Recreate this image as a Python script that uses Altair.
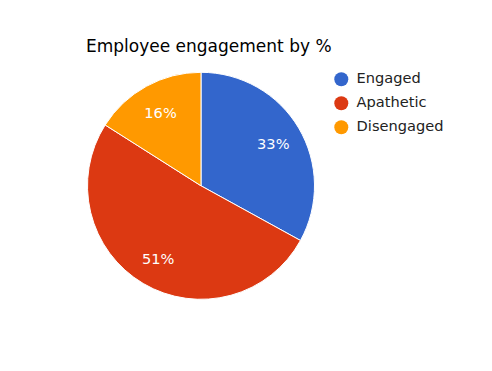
import altair as alt
import pandas as pd

categories = ["Engaged", "Apathetic", "Disengaged"]
values = [33, 51, 16]
labels = ["33%", "51%", "16%"]
colors = ["#3366CC", "#DC3912", "#FF9900"]
title_text = "Employee engagement by %"

df = pd.DataFrame({
    "category": categories,
    "value": values,
    "label": labels,
    "order": list(range(len(categories))),
})

CX, CY, R = 193, 177.8, 113.5
FONT = "DejaVu Sans"

color = alt.Color(
    "category:N",
    scale=alt.Scale(domain=categories, range=colors),
    legend=alt.Legend(
        title=None,
        orient="none",
        legendX=326,
        legendY=64,
        symbolType="circle",
        symbolSize=196,
        symbolStrokeWidth=0,
        labelFontSize=14.6,
        labelFont=FONT,
        labelColor="#222222",
        labelOffset=8,
        rowPadding=8,
        padding=0,
    ),
)

base = alt.Chart(df).encode(
    theta=alt.Theta("value:Q", stack=True),
    order=alt.Order("order:Q", sort="ascending"),
)

pie = base.mark_arc(
    x=CX, y=CY, outerRadius=R, stroke="white", strokeWidth=1
).encode(color=color)

text = base.mark_text(
    x=CX, y=CY, radius=84, dy=1.5, font=FONT, fontSize=14.6, color="white",
    align="center", baseline="middle"
).encode(text="label:N")

title = alt.Chart(pd.DataFrame({"t": [title_text]})).mark_text(
    font=FONT, fontSize=17, color="#000000", align="left", baseline="alphabetic"
).encode(x=alt.value(78), y=alt.value(43.5), text="t:N")

chart = alt.layer(pie, text, title).properties(
    width=476, height=355,
    autosize=alt.AutoSizeParams(type="none"),
    padding=0,
).configure_view(stroke=None)

chart.save("out.html", embed_options={"renderer": "svg", "actions": False})
